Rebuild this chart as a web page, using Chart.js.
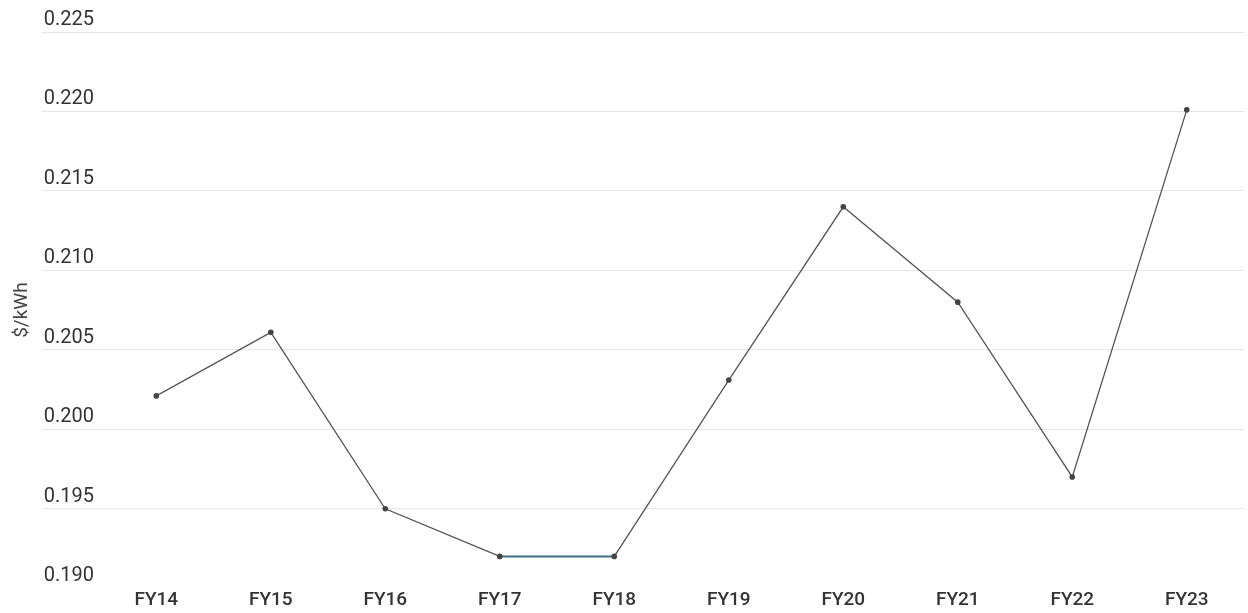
<!DOCTYPE html>
<html>
<head>
<meta charset="utf-8">
<script src="https://cdn.jsdelivr.net/npm/chart.js@4"></script>
<style>
  html, body { margin: 0; padding: 0; background: #fff; }
  #wrap { width: 1248px; height: 613px; }
</style>
</head>
<body>
<div id="wrap"><canvas id="rateChart"></canvas></div>
<script>
const categories = ['FY14', 'FY15', 'FY16', 'FY17', 'FY18', 'FY19', 'FY20', 'FY21', 'FY22', 'FY23']
const rates = [0.2021, 0.2061, 0.1950, 0.1920, 0.1920, 0.2031, 0.2140, 0.2080, 0.1970, 0.2201]
const yTicks = [0.190, 0.195, 0.200, 0.205, 0.210, 0.215, 0.220, 0.225]

const points = rates.map((v, i) => ({ x: i, y: v }))

new Chart(document.getElementById('rateChart'), {
  type: 'line',
  data: {
    datasets: [{
      label: '$/kWh',
      data: points,
      borderColor: '#555',
      borderWidth: 1.3,
      tension: 0,
      pointRadius: 2.8,
      pointBackgroundColor: '#444',
      pointBorderColor: '#444',
      pointBorderWidth: 0,
      segment: {
        // the flat FY17-FY18 stretch is drawn in teal
        borderColor: ctx => ctx.p0.parsed.y === ctx.p1.parsed.y ? '#3d6f82' : undefined,
        borderWidth: ctx => ctx.p0.parsed.y === ctx.p1.parsed.y ? 2 : undefined
      }
    }]
  },
  options: {
    responsive: true,
    maintainAspectRatio: false,
    animation: false,
    layout: { padding: { left: 7, top: 32, right: 0, bottom: 0 } },
    plugins: {
      legend: { display: false },
      tooltip: { enabled: false }
    },
    scales: {
      x: {
        type: 'linear',
        min: -1.0,
        max: 9.5,
        afterBuildTicks: scale => {
          scale.ticks = categories.map((c, i) => ({ value: i }))
        },
        grid: { display: false, drawTicks: false },
        border: { display: false },
        ticks: {
          autoSkip: false,
          maxRotation: 0,
          padding: 1,
          color: '#333',
          font: { family: 'Roboto', size: 19, weight: '500' },
          callback: value => categories[value] ?? ''
        }
      },
      y: {
        min: 0.190,
        max: 0.225,
        afterBuildTicks: scale => {
          scale.ticks = yTicks.map(v => ({ value: v }))
        },
        grid: {
          drawTicks: false,
          color: ctx => (ctx.tick && ctx.tick.value <= 0.1901) ? 'rgba(0,0,0,0)' : '#e6e6e6',
          lineWidth: 1
        },
        border: { display: false },
        title: {
          display: true,
          text: '$/kWh',
          color: '#444',
          font: { family: 'Roboto', size: 19 },
          padding: { top: 4, bottom: 4 }
        },
        ticks: {
          mirror: true,
          padding: 2,
          labelOffset: -12,
          color: '#333',
          font: { family: 'Roboto', size: 20 },
          callback: value => value.toFixed(3)
        }
      }
    }
  }
})
</script>
</body>
</html>
